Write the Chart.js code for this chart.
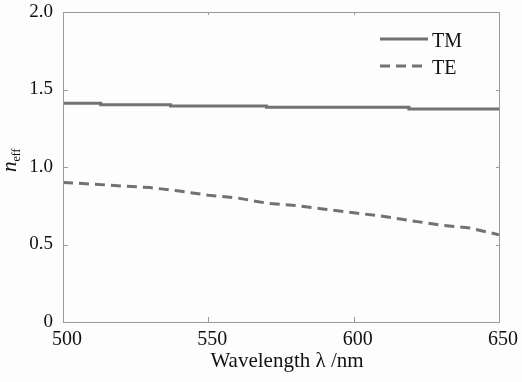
<!DOCTYPE html>
<html>
<head>
<meta charset="utf-8">
<script src="https://cdn.jsdelivr.net/npm/chart.js@4.4.1/dist/chart.umd.min.js"></script>
<style>
    html, body { margin: 0; padding: 0; background: #fdfdfd; }
    #wrap { width: 522px; height: 382px; }
</style>
</head>
<body>
<div id="wrap"><canvas id="chart" width="522" height="382"></canvas></div>
<script>
// Values
const tmWavelength = [500, 513, 537, 570, 619, 650];
const tmIndex = [1.411, 1.402, 1.394, 1.385, 1.374, 1.374];

const teWavelength = [500, 510, 520, 530, 540, 550, 560, 570, 580, 590, 600, 610, 620, 630, 640, 650];
const teIndex = [0.900, 0.890, 0.878, 0.867, 0.845, 0.818, 0.800, 0.767, 0.751, 0.728, 0.705, 0.682, 0.653, 0.625, 0.606, 0.563];

const xTicks = [500, 550, 600, 650];
const yTicks = [0, 0.5, 1.0, 1.5, 2.0];

const seriesNames = ['TM', 'TE'];
const xTitle = 'Wavelength λ /nm';

const serif = '"Liberation Serif", serif';
const lineGray = '#727272';
const axisGray = '#9a9a9a';

function toPoints(xs, ys) {
    return xs.map((x, i) => ({ x: x, y: ys[i] }));
}

// background, box, inward ticks, legend and axis titles
const decorations = {
    id: 'decorations',
    beforeDraw(chart) {
        const ctx = chart.ctx;
        ctx.save();
        ctx.fillStyle = '#fdfdfd';
        ctx.fillRect(0, 0, chart.width, chart.height);
        ctx.restore();
    },
    afterDraw(chart) {
        const ctx = chart.ctx;
        const a = chart.chartArea;
        const xs = chart.scales.x;
        const ys = chart.scales.y;
        ctx.save();
        ctx.strokeStyle = axisGray;
        ctx.lineWidth = 1;
        ctx.strokeRect(Math.round(a.left) + 0.5, Math.round(a.top) + 0.5,
            Math.round(a.right - a.left), Math.round(a.bottom - a.top));

        ctx.beginPath();
        xTicks.slice(1, -1).forEach(v => {
            const px = Math.round(xs.getPixelForValue(v)) + 0.5;
            ctx.moveTo(px, a.bottom); ctx.lineTo(px, a.bottom - 5);
            ctx.moveTo(px, a.top); ctx.lineTo(px, a.top + 3);
        });
        yTicks.slice(1, -1).forEach(v => {
            const py = Math.round(ys.getPixelForValue(v)) + 0.5;
            ctx.moveTo(a.left, py); ctx.lineTo(a.left + 5, py);
            ctx.moveTo(a.right, py); ctx.lineTo(a.right - 3, py);
        });
        ctx.stroke();

        // legend
        chart.data.datasets.forEach((ds, i) => {
            const y = 39 + i * 27;
            ctx.beginPath();
            ctx.strokeStyle = ds.borderColor;
            ctx.lineWidth = ds.borderWidth;
            ctx.setLineDash(ds.borderDash || []);
            ctx.moveTo(380, y);
            ctx.lineTo(428, y);
            ctx.stroke();
            ctx.setLineDash([]);
            ctx.fillStyle = '#111';
            ctx.font = '20px ' + serif;
            ctx.textBaseline = 'alphabetic';
            ctx.textAlign = 'left';
            ctx.fillText(ds.label, 432, y + 8);
        });

        // x axis title
        ctx.fillStyle = '#111';
        ctx.font = '21px ' + serif;
        ctx.textAlign = 'center';
        ctx.textBaseline = 'alphabetic';
        ctx.fillText(xTitle, 287, 367);

        // y axis label: n_eff
        ctx.translate(16, 172);
        ctx.rotate(-Math.PI / 2);
        ctx.textAlign = 'left';
        ctx.font = 'italic 21px ' + serif;
        ctx.fillText('n', 0, 0);
        const nw = ctx.measureText('n').width;
        ctx.font = '12px ' + serif;
        ctx.fillText('eff', nw, 4);
        ctx.restore();
    }
};

new Chart(document.getElementById('chart'), {
    type: 'line',
    data: {
        datasets: [{
            label: seriesNames[0],
            data: toPoints(tmWavelength, tmIndex),
            borderColor: lineGray,
            borderWidth: 3,
            stepped: true,
            pointRadius: 0
        }, {
            label: seriesNames[1],
            data: toPoints(teWavelength, teIndex),
            borderColor: lineGray,
            borderWidth: 3,
            borderDash: [10, 6],
            pointRadius: 0,
            tension: 0
        }]
    },
    options: {
        responsive: false,
        animation: false,
        layout: { padding: { left: 0, top: 12, right: 23, bottom: 0 } },
        plugins: {
            legend: { display: false },
            tooltip: { enabled: false }
        },
        scales: {
            x: {
                type: 'linear',
                min: 500,
                max: 650,
                afterFit: s => {
                    s.height = 60;
                    s.paddingLeft = 0;
                    s.paddingRight = 0;
                },
                afterBuildTicks: s => { s.ticks = xTicks.map(v => ({ value: v })); },
                grid: { display: false, drawTicks: false },
                border: { display: true, color: axisGray },
                ticks: {
                    padding: 6,
                    labelOffset: 4,
                    color: '#111',
                    font: { family: serif, size: 20 }
                }
            },
            y: {
                min: 0,
                max: 2,
                afterFit: s => {
                    s.width = 63;
                    s.paddingTop = 0;
                    s.paddingBottom = 0;
                },
                afterBuildTicks: s => { s.ticks = yTicks.map(v => ({ value: v })); },
                grid: { display: false, drawTicks: false },
                border: { display: true, color: axisGray },
                ticks: {
                    padding: 10,
                    color: '#111',
                    font: { family: serif, size: 19 },
                    callback: v => v === 0 ? '0' : v.toFixed(1)
                }
            }
        }
    },
    plugins: [decorations]
});
</script>
</body>
</html>
